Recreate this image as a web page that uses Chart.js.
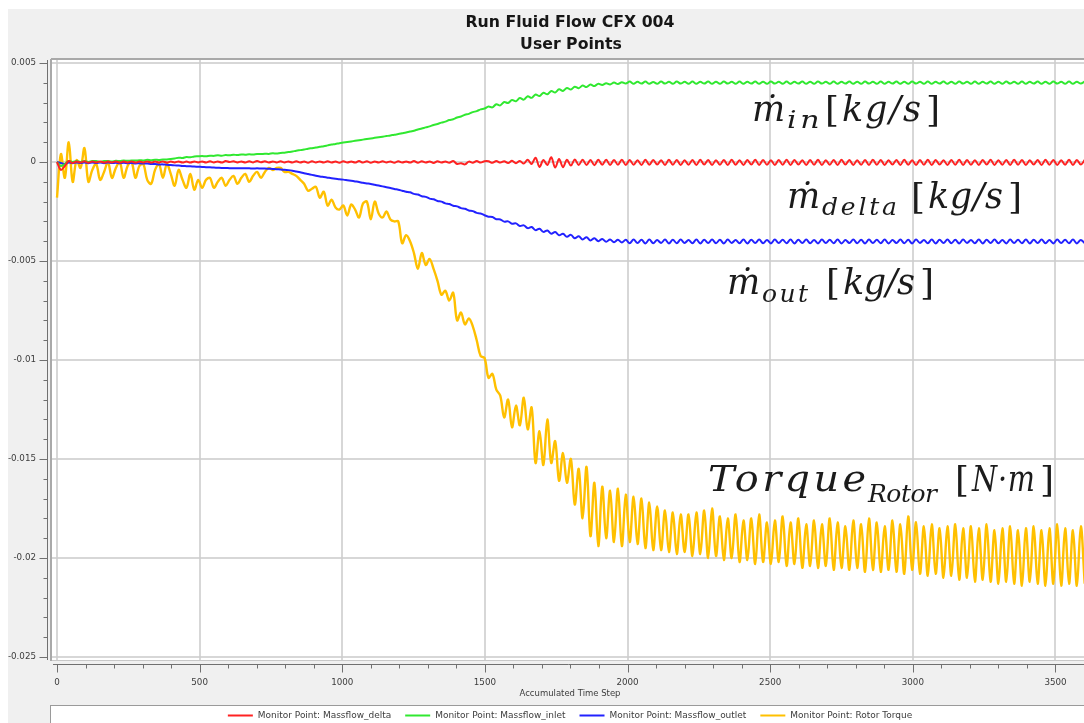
<!DOCTYPE html>
<html>
<head>
<meta charset="utf-8">
<title>Run Fluid Flow CFX 004 - User Points</title>
<script src="https://cdn.jsdelivr.net/npm/chart.js@4.4.1/dist/chart.umd.min.js"></script>
<style>
  html, body { margin: 0; padding: 0; background: #ffffff; overflow: hidden; }
  #wrap { position: relative; width: 1084px; height: 723px; }
</style>
</head>
<body>
<div id="wrap"><canvas id="chart" width="1084" height="723"></canvas></div>
<script>
// Monitor records are stored every 13.75 accumulated time steps.
const sampleEvery = 13.75;

const xTicks = [0, 500, 1000, 1500, 2000, 2500, 3000, 3500];
const yTicks = [0.005, 0, -0.005, -0.01, -0.015, -0.02, -0.025];

const chartTitle = ['Run Fluid Flow CFX 004', 'User Points'];
const xAxisTitle = 'Accumulated Time Step';
const seriesNames = [
  'Monitor Point: Massflow_delta',
  'Monitor Point: Massflow_inlet',
  'Monitor Point: Massflow_outlet',
  'Monitor Point: Rotor Torque'
];

// All monitor values below are in units of 1e-4 (kg/s or N·m).
const massflowDelta = [
  // steps 0 - 495
  0, -4, -2, 0.5, -0.5, 0.3, -0.3, 0.4, -0.4, 0.3,
  -0.2, 0.3, -0.3, 0.2, -0.2, 0.3, -0.3, 0.2, -0.2, 0.3,
  -0.3, 0.2, -0.2, 0.3, -0.3, 0.2, -0.2, 0.3, -0.3, 0.2,
  -0.2, 0.3, -0.3, 0.2, -0.3, 0.3, -0.2,
  // steps 509 - 797
  0.3, -0.3, 0.4, -0.2, 0.3, -0.3, 0.5, 0, 0.4, -0.2,
  0.3, -0.3, 0.4, -0.2, 0.5, -0.1, 0.4, -0.3, 0.3, -0.2,
  0.4, -0.2,
  // steps 811 - 1499
  0.3, -0.3, 0.4, -0.3, 0.3, -0.4, 0.4, -0.2, 0.3, -0.3,
  0.4, -0.3, 0.3, -0.4, 0.4, -0.3, 0.3, -0.3, 0.5, -0.3,
  0.4, -0.4, 0.3, -0.3, 0.4, -0.2, 0.3, -0.4, 0.4, -0.3,
  0.3, -0.3, 0.5, -0.4, 0.4, -0.3, 0.3, -0.5, 0.4, -0.3,
  0.3, -0.4, 0.5, -1.0, -0.6, -1.2, 0.2, -0.4, 0.5, -0.3,
  0.4,
  // steps 1512 - 1994
  0.4, -0.4, 0.5, -0.3, 0.4, -0.5, 0.6, -0.6, 0.5, -0.8,
  1.2, -1.0, 2.2, -2.5, 1.0, -1.5, 2.4, -2.8, 1.5, -2.6,
  1.1, -1.8, 1.3, -1.5, 1.1, -1.5, 1.0, -1.6, 1.1, -1.4,
  1.1, -1.5, 1.0, -1.4, 1.1, -1.5,
  // steps 2007 - 3602
  1.0, -1.4, 0.9, -1.5, 1.1, -1.4, 1.0, -1.3, 0.9, -1.5,
  1.1, -1.4, 1.0, -1.5, 0.9, -1.4, 1.0, -1.5, 1.1, -1.3,
  1.0, -1.5, 0.9, -1.4, 1.0, -1.5, 1.1, -1.4, 0.9, -1.5,
  1.0, -1.3, 1.1, -1.5, 1.0, -1.4, 0.9, -1.5, 1.0, -1.4,
  1.1, -1.5, 1.0, -1.3, 0.9, -1.5, 1.0, -1.4, 1.1, -1.5,
  0.9, -1.4, 1.0, -1.5, 1.1, -1.3, 1.0, -1.5, 0.9, -1.4,
  1.0, -1.5, 1.1, -1.4, 1.0, -1.5, 0.9, -1.3, 1.0, -1.5,
  1.1, -1.4, 0.9, -1.5, 1.0, -1.4, 1.1, -1.5, 1.0, -1.3,
  0.9, -1.5, 1.0, -1.4, 1.1, -1.5, 1.0, -1.4, 0.9, -1.5,
  1.0, -1.3, 1.1, -1.5, 0.9, -1.4, 1.0, -1.5, 1.1, -1.4,
  1.0, -1.5, 0.9, -1.3, 1.0, -1.5, 1.1, -1.4, 1.0, -1.5,
  0.9, -1.4, 1.1, -1.5, 1.0, -1.3, 1.0
];

const massflowInlet = [
  // steps 0 - 495
  0, -2, -1, 0.5, 0, 0.5, 0, 0.5, 0, 0.5,
  0.5, 0, 0.5, 0.5, 0.3, 0.6, 0.5, 0.7, 0.6, 0.8,
  0.7, 0.9, 0.8, 1.1, 0.9, 1.2, 1.0, 1.3, 1.3, 1.5,
  1.8, 2.2, 2.0, 2.5, 2.4, 2.8, 2.9,
  // steps 509 - 797
  3.0, 2.9, 3.2, 3.1, 3.4, 3.2, 3.5, 3.4, 3.7, 3.5,
  3.8, 3.7, 3.9, 3.8, 4.0, 4.0, 4.2, 4.1, 4.4, 4.3,
  4.6, 4.7,
  // steps 811 - 1499
  5.0, 5.3, 5.7, 6.0, 6.3, 6.7, 7.0, 7.3, 7.7, 8.0,
  8.4, 8.8, 9.1, 9.5, 9.8, 10.1, 10.4, 10.7, 11.0, 11.3,
  11.6, 11.9, 12.2, 12.5, 12.8, 13.1, 13.4, 13.8, 14.1, 14.5,
  14.9, 15.4, 15.8, 16.4, 16.9, 17.5, 18.0, 18.7, 19.2, 19.9,
  20.4, 21.2, 21.6, 22.5, 23.0, 23.9, 24.3, 25.2, 25.7, 26.6,
  27.0,
  // steps 1512 - 1994
  28.0, 27.6, 29.2, 28.6, 30.3, 29.8, 31.3, 30.7, 32.3, 31.5,
  33.2, 32.4, 34.1, 33.3, 35.0, 34.2, 35.9, 35.1, 36.7, 35.9,
  37.4, 36.6, 38.0, 37.3, 38.6, 37.9, 39.1, 38.4, 39.5, 38.9,
  39.8, 39.2, 40.1, 39.4, 40.3, 39.6,
  // steps 2007 - 3602
  40.6, 39.5, 40.5, 39.6, 40.6, 39.5, 40.4, 39.5, 40.6, 39.6,
  40.5, 39.5, 40.6, 39.6, 40.5, 39.5, 40.6, 39.5, 40.5, 39.6,
  40.6, 39.5, 40.5, 39.5, 40.6, 39.6, 40.5, 39.5, 40.6, 39.5,
  40.5, 39.6, 40.6, 39.5, 40.5, 39.5, 40.6, 39.6, 40.5, 39.5,
  40.6, 39.5, 40.5, 39.6, 40.6, 39.5, 40.5, 39.5, 40.6, 39.6,
  40.5, 39.5, 40.6, 39.5, 40.5, 39.6, 40.6, 39.5, 40.5, 39.5,
  40.6, 39.6, 40.5, 39.5, 40.6, 39.5, 40.5, 39.6, 40.6, 39.5,
  40.5, 39.5, 40.6, 39.6, 40.5, 39.5, 40.6, 39.5, 40.5, 39.6,
  40.6, 39.5, 40.5, 39.5, 40.6, 39.6, 40.5, 39.5, 40.6, 39.5,
  40.5, 39.6, 40.6, 39.5, 40.5, 39.5, 40.6, 39.6, 40.5, 39.5,
  40.6, 39.5, 40.5, 39.6, 40.6, 39.5, 40.5, 39.5, 40.6, 39.6,
  40.5, 39.5, 40.6, 39.5, 40.5, 39.6, 40.6
];

const massflowOutlet = [
  // steps 0 - 495
  0, -0.5, -1, -0.3, -0.6, -0.2, -0.5, -0.3, -0.6, -0.2,
  -0.5, -0.3, -0.6, -0.3, -0.5, -0.4, -0.6, -0.4, -0.6, -0.5,
  -0.7, -0.6, -0.8, -0.8, -1.0, -1.0, -1.2, -1.2, -1.4, -1.5,
  -1.7, -1.8, -2.0, -2.1, -2.2, -2.3, -2.4,
  // steps 509 - 797
  -2.5, -2.6, -2.7, -2.8, -2.9, -3.0, -3.0, -3.1, -3.1, -3.2,
  -3.2, -3.2, -3.2, -3.3, -3.2, -3.3, -3.3, -3.4, -3.5, -3.6,
  -3.8, -3.9,
  // steps 811 - 1499
  -4.1, -4.4, -4.8, -5.2, -5.7, -6.1, -6.5, -6.9, -7.3, -7.6,
  -7.9, -8.2, -8.4, -8.7, -8.9, -9.2, -9.5, -9.8, -10.1, -10.5,
  -10.8, -11.1, -11.5, -11.9, -12.3, -12.7, -13.1, -13.6, -14.0, -14.5,
  -15.0, -15.3, -16.1, -16.4, -17.3, -17.6, -18.5, -18.8, -19.7, -20.0,
  -20.9, -21.2, -22.1, -22.4, -23.3, -23.6, -24.5, -24.8, -25.7, -26.0,
  -26.9,
  // steps 1512 - 1994
  -27.6, -27.8, -28.9, -29.0, -30.1, -30.0, -31.2, -31.0, -32.3, -32.0,
  -33.4, -32.8, -34.4, -33.7, -35.3, -34.6, -36.2, -35.4, -37.0, -36.2,
  -37.8, -36.8, -38.5, -37.5, -39.1, -38.0, -39.6, -38.5, -40.0, -38.9,
  -40.3, -39.1, -40.5, -39.3, -40.6, -39.3,
  // steps 2007 - 3602
  -41.0, -39.2, -40.9, -39.3, -41.1, -39.2, -41.0, -39.4, -40.9, -39.2,
  -41.1, -39.3, -41.0, -39.2, -40.9, -39.4, -41.0, -39.2, -41.1, -39.3,
  -40.9, -39.2, -41.0, -39.3, -41.1, -39.2, -40.9, -39.4, -41.0, -39.2,
  -41.1, -39.3, -40.9, -39.2, -41.0, -39.4, -41.1, -39.2, -40.9, -39.3,
  -41.0, -39.2, -41.1, -39.3, -40.9, -39.2, -41.0, -39.4, -41.1, -39.2,
  -40.9, -39.3, -41.0, -39.2, -41.1, -39.4, -40.9, -39.2, -41.0, -39.3,
  -41.1, -39.2, -40.9, -39.3, -41.0, -39.2, -41.1, -39.4, -40.9, -39.2,
  -41.0, -39.3, -41.1, -39.2, -40.9, -39.4, -41.0, -39.2, -41.1, -39.3,
  -40.9, -39.2, -41.0, -39.3, -41.1, -39.2, -40.9, -39.4, -41.0, -39.2,
  -41.1, -39.3, -40.9, -39.2, -41.0, -39.4, -41.1, -39.2, -40.9, -39.3,
  -41.0, -39.2, -41.1, -39.3, -40.9, -39.2, -41.0, -39.4, -41.1, -39.2,
  -40.9, -39.3, -41.0, -39.2, -41.1, -39.4, -41.0
];

const rotorTorque = [
  // steps 0 - 495
  -18, 4, -8, 10, -10, 1, -3, 7, -10, -4,
  -1, -9, -5, 0, -8, -3, 0, -8, -2, 0,
  -8, -2, -1, -9, -11, -4, -1, -8, -1, -6,
  -12, -4, -9, -13, -6, -14, -9,
  // steps 509 - 797
  -13, -9, -8, -13, -10, -8, -12, -9, -7, -11,
  -8, -6, -10, -7, -5, -8, -5, -3, -4, -3,
  -3, -5,
  // steps 811 - 1499
  -5, -6, -7, -9, -11, -14.5, -13.5, -12.5, -18, -15,
  -22, -19, -23, -24, -22, -27, -21.5, -24, -28, -21,
  -20, -29, -20, -26, -28, -25, -29, -30, -30, -41,
  -37, -40, -46, -54, -46, -52, -49, -54, -60, -67,
  -65, -70, -66, -80, -76, -82, -79, -83, -90, -98,
  -99,
  // steps 1512 - 1994
  -109, -107, -115, -118, -129, -120, -134, -123, -133, -119,
  -135, -124, -152, -136, -153, -130, -152, -141, -161, -147,
  -162, -150, -173, -155, -180, -154, -189, -162, -194, -164,
  -190, -166, -192, -165, -194, -168,
  // steps 2007 - 3602
  -192, -169, -193, -170, -195, -172, -196, -174, -196, -176,
  -197, -177, -198, -178, -197, -178, -199, -177, -198, -176,
  -200, -175, -199, -179, -201, -180, -200, -178, -202, -181,
  -201, -180, -203, -178, -202, -182, -203, -181, -202, -179,
  -204, -182, -203, -180, -205, -183, -204, -181, -205, -183,
  -204, -180, -206, -182, -205, -184, -206, -181, -205, -183,
  -207, -180, -206, -182, -207, -184, -206, -181, -207, -183,
  -208, -179, -206, -182, -208, -184, -209, -183, -208, -185,
  -210, -184, -209, -183, -211, -185, -210, -184, -212, -185,
  -211, -183, -212, -186, -213, -185, -212, -184, -213, -186,
  -214, -185, -212, -184, -213, -186, -214, -185, -213, -183,
  -214, -185, -213, -186, -214, -184, -213
];

const seriesColors = ['rgb(255,34,34)', 'rgb(48,232,48)', 'rgb(34,34,255)', 'rgb(255,192,0)'];
const seriesWidths = [2, 2, 2, 2.4];

// Curve captions: symbol, subscript and bracketed unit.
const curveCaptions = [
  { sym: 'ṁ', sub: 'in', unit: 'kg/s' },
  { sym: 'ṁ', sub: 'delta', unit: 'kg/s' },
  { sym: 'ṁ', sub: 'out', unit: 'kg/s' },
  { sym: 'Torque', sub: 'Rotor', unit: 'N\u2009·\u2009m' }
];
// Caption placement: [symbol x, symbol width, baseline, sub x, sub width, sub baseline, unit left, unit right]
const captionLayout = [
  [752, 0, 121, 787, 36, 128, 825, 940],
  [787, 0, 208, 822, 75, 215, 911, 1022],
  [727, 0, 294, 762, 46, 302, 826, 934],
  [708, 158, 491, 868, 69, 502, 955, 1054]
];

const toPoints = vals => vals.map((v, i) => ({ x: i * sampleEvery, y: v * 1e-4 }));

const allSeries = [massflowDelta, massflowInlet, massflowOutlet, rotorTorque];

const SERIF = '"DejaVu Serif", "Liberation Serif", serif';
const SANS = '"DejaVu Sans", "Liberation Sans", sans-serif';

function fitSize(ctx, text, weight, family, target) {
  ctx.font = `${weight} 20px ${family}`;
  return 20 * target / ctx.measureText(text).width;
}

// Draws text from x to roughly x + width: adjusted letter spacing, then a mild horizontal stretch or squeeze.
function fitText(ctx, text, x, y, width) {
  ctx.letterSpacing = '0px';
  ctx.textAlign = 'left';
  if (!(width > 0)) { ctx.fillText(text, x, y); return; }
  const base = ctx.measureText(text).width;
  const n = [...text].length;
  let s = n > 1 ? (width - base) / (n - 1) : 0;
  s = Math.max(-3, Math.min(3, s));
  const natural = base + s * (n - 1);
  const h = Math.max(0.8, Math.min(1.2, width / natural));
  ctx.save();
  if ('letterSpacing' in ctx) ctx.letterSpacing = s.toFixed(2) + 'px';
  ctx.translate(x, y);
  ctx.scale(h, 1);
  ctx.fillText(text, 0, 0);
  ctx.restore();
}

const cfxFrame = {
  id: 'cfxFrame',
  beforeDraw(chart) {
    const { ctx, chartArea: a, width, height } = chart;
    ctx.save();
    ctx.fillStyle = '#ffffff';
    ctx.fillRect(0, 0, width, height);
    ctx.fillStyle = '#f0f0f0';
    ctx.fillRect(8, 9, width - 8, height - 9);
    ctx.fillStyle = '#ffffff';
    ctx.fillRect(a.left, a.top, a.right - a.left, a.bottom - a.top);
    ctx.restore();
  },
  afterDraw(chart) {
    const { ctx, chartArea: a, width } = chart;
    const xs = chart.scales.x, ys = chart.scales.y;
    ctx.save();

    // plot frame
    ctx.strokeStyle = '#a9a9a9';
    ctx.lineWidth = 2;
    ctx.beginPath();
    ctx.moveTo(a.left - 1, a.top - 1); ctx.lineTo(width, a.top - 1);
    ctx.moveTo(a.left - 1, a.top - 1); ctx.lineTo(a.left - 1, a.bottom + 1);
    ctx.stroke();
    ctx.strokeStyle = '#c8c8c8';
    ctx.lineWidth = 1;
    ctx.beginPath();
    ctx.moveTo(a.left, a.bottom + 0.5); ctx.lineTo(width, a.bottom + 0.5);
    ctx.stroke();

    // y axis line and ticks
    const yAxisX = a.left - 4.5;
    ctx.strokeStyle = '#707070';
    ctx.lineWidth = 1;
    ctx.beginPath();
    ctx.moveTo(yAxisX, a.top); ctx.lineTo(yAxisX, a.bottom);
    const yLo = yTicks[yTicks.length - 1], yHi = yTicks[0];
    for (let k = 0; k <= Math.round((yHi - yLo) / 0.001); k++) {
      const v = yLo + k * 0.001;
      const py = Math.round(ys.getPixelForValue(v)) + 0.5;
      const major = k % 5 === 0;
      ctx.moveTo(yAxisX - (major ? 8 : 4), py); ctx.lineTo(yAxisX, py);
    }
    ctx.stroke();

    ctx.fillStyle = '#3c3c3c';
    ctx.font = `${fitSize(ctx, '0.005', 'normal', SANS, 25).toFixed(2)}px ${SANS}`;
    ctx.textAlign = 'right';
    ctx.textBaseline = 'middle';
    yTicks.forEach(v => ctx.fillText(String(v), 36, ys.getPixelForValue(v)));

    // x axis line and ticks
    const xAxisY = a.bottom + 4.5;
    ctx.beginPath();
    ctx.moveTo(a.left + 1, xAxisY); ctx.lineTo(width, xAxisY);
    for (let t = 0; t <= xs.max; t += 100) {
      const px = Math.round(xs.getPixelForValue(t)) + 0.5;
      const major = t % 500 === 0;
      ctx.moveTo(px, xAxisY); ctx.lineTo(px, xAxisY + (major ? 8 : 4));
    }
    ctx.stroke();

    ctx.textAlign = 'center';
    xTicks.forEach(v => ctx.fillText(String(v), xs.getPixelForValue(v), 683));
    ctx.font = `${fitSize(ctx, xAxisTitle, 'normal', SANS, 101).toFixed(2)}px ${SANS}`;
    ctx.fillText(xAxisTitle, 570, 694);

    // chart title
    ctx.fillStyle = '#161616';
    const titleSize = fitSize(ctx, chartTitle[0], 'bold', SANS, 209);
    ctx.font = `bold ${titleSize.toFixed(2)}px ${SANS}`;
    ctx.textBaseline = 'alphabetic';
    ctx.fillText(chartTitle[0], 570, 27);
    ctx.fillText(chartTitle[1], 571, 49);

    // legend box
    ctx.fillStyle = '#ffffff';
    ctx.fillRect(50, 706, width - 50, 20);
    ctx.strokeStyle = '#9a9a9a';
    ctx.lineWidth = 1;
    ctx.strokeRect(50.5, 705.5, width, 30);
    const legSize = fitSize(ctx, seriesNames[2], 'normal', SANS, 137);
    ctx.font = `${legSize.toFixed(2)}px ${SANS}`;
    const sw = 25, gapA = 5, gapB = 14;
    const widths = seriesNames.map(s => ctx.measureText(s).width);
    const total = widths.reduce((p, w) => p + w + sw + gapA, 0) + gapB * (seriesNames.length - 1);
    let lx = 570 - total / 2;
    const ly = 715.5;
    ctx.textAlign = 'left';
    ctx.textBaseline = 'middle';
    seriesNames.forEach((name, k) => {
      ctx.strokeStyle = seriesColors[k];
      ctx.lineWidth = 2;
      ctx.beginPath();
      ctx.moveTo(lx, ly); ctx.lineTo(lx + sw, ly);
      ctx.stroke();
      ctx.fillStyle = '#3c3c3c';
      ctx.fillText(name, lx + sw + gapA, ly);
      lx += sw + gapA + widths[k] + gapB;
    });

    // curve captions
    ctx.fillStyle = '#1b1b1b';
    ctx.textBaseline = 'alphabetic';
    curveCaptions.forEach((c, k) => {
      const [sx, sw2, sy, bx, bw, by, u0, u1] = captionLayout[k];
      ctx.font = `italic 35px ${SERIF}`;
      fitText(ctx, c.sym, sx, sy, sw2);
      ctx.font = `italic 25px ${SERIF}`;
      fitText(ctx, c.sub, bx, by, bw);
      ctx.font = `36px ${SERIF}`;
      ctx.textAlign = 'left';
      ctx.letterSpacing = '0px';
      ctx.fillText('[', u0, sy + 1);
      const rb = ctx.measureText(']').width;
      ctx.fillText(']', u1 - rb, sy + 1);
      const lb = ctx.measureText('[').width;
      ctx.font = `italic 35px ${SERIF}`;
      fitText(ctx, c.unit, u0 + lb + 3, sy, (u1 - rb - 5) - (u0 + lb + 3));
    });

    ctx.restore();
  }
};

new Chart(document.getElementById('chart'), {
  type: 'line',
  data: {
    datasets: allSeries.map((vals, k) => ({
      label: seriesNames[k],
      data: toPoints(vals),
      borderColor: seriesColors[k],
      backgroundColor: seriesColors[k],
      borderWidth: seriesWidths[k],
      pointRadius: 0,
      tension: 0.35,
      fill: false
    }))
  },
  options: {
    responsive: false,
    devicePixelRatio: 1,
    animation: false,
    events: [],
    layout: { padding: { top: 60, right: 0, left: 0, bottom: 0 } },
    plugins: {
      legend: { display: false },
      title: { display: false },
      tooltip: { enabled: false }
    },
    scales: {
      x: {
        type: 'linear',
        min: -17.5,
        max: 3600,
        afterBuildTicks: s => { s.ticks = xTicks.map(v => ({ value: v })); },
        afterFit: s => { s.height = 63; },
        ticks: { display: false },
        border: { display: false },
        grid: { color: 'rgba(205,205,205,0.8)', lineWidth: 2, drawTicks: false }
      },
      y: {
        type: 'linear',
        min: -0.025152,
        max: 0.005152,
        afterBuildTicks: s => { s.ticks = yTicks.map(v => ({ value: v })); },
        afterFit: s => { s.width = 52; },
        ticks: { display: false },
        border: { display: false },
        grid: { color: 'rgba(205,205,205,0.8)', lineWidth: 2, drawTicks: false }
      }
    }
  },
  plugins: [cfxFrame]
});
</script>
</body>
</html>
